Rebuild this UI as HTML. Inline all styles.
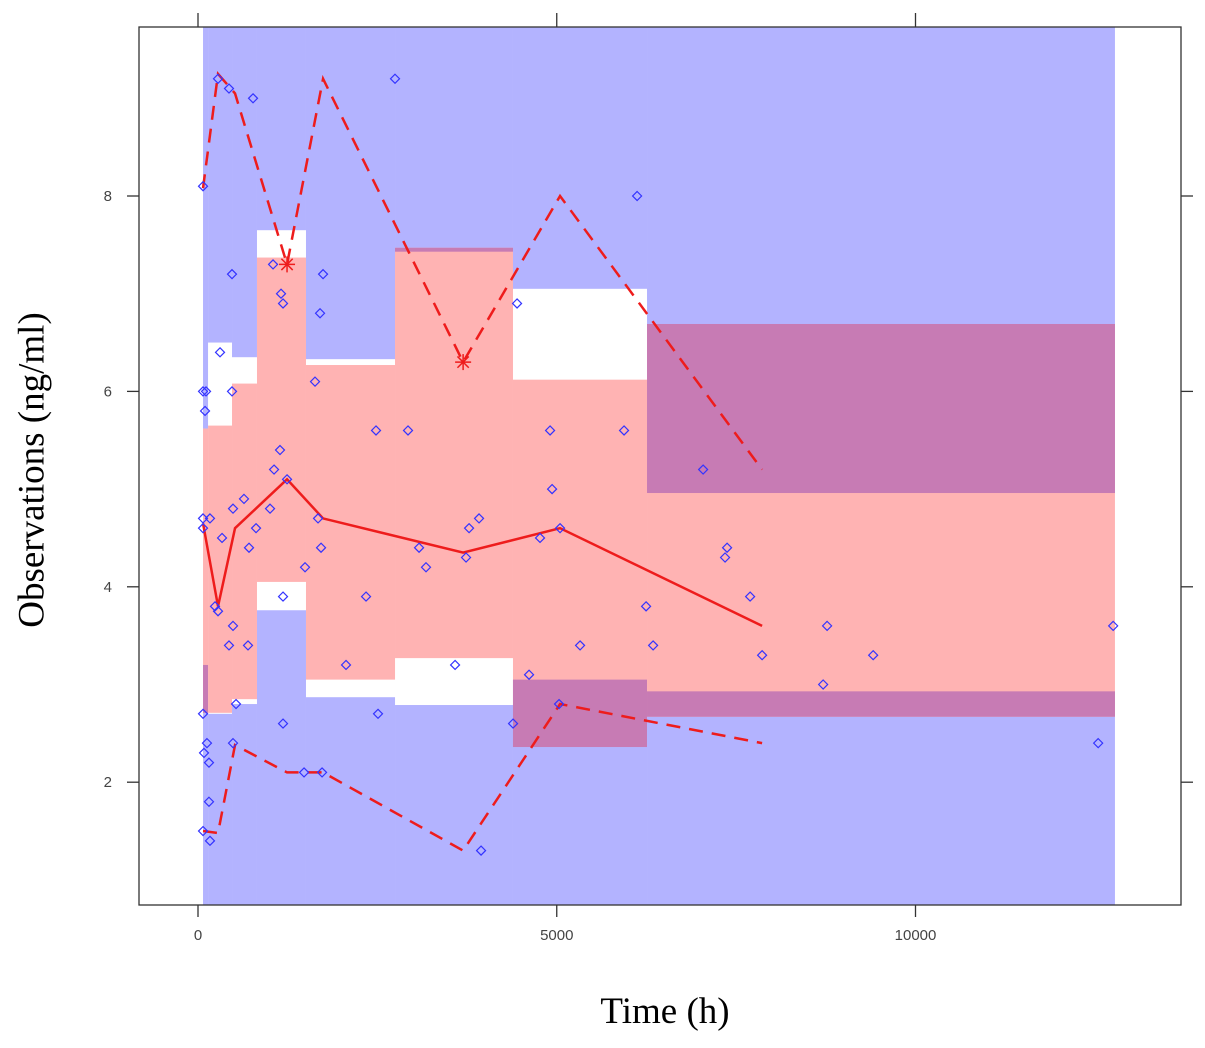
<!DOCTYPE html>
<html><head><meta charset="utf-8"><style>
html,body{margin:0;padding:0;background:#fff;overflow:hidden;width:1205px;height:1048px;}
svg text{font-family:"Liberation Sans",sans-serif;}
</style></head><body>
<svg id="chart" width="1205" height="1048" style="position:absolute;left:0;top:0" xmlns="http://www.w3.org/2000/svg">
<g id="bands"></g>
<g id="lines"></g>
<g id="pts"></g>
<g id="axes"></g>
</svg>
<script>
// bins (hours) and band limits
const binEdges=[70,140,474,822,1505,2746,4390,6258,12780];
const upperLo=[5.62,6.5,6.35,7.65,6.33,7.43,7.05,4.96];
const upperHi=[9.73,9.73,9.73,9.73,9.73,9.73,9.73,9.73];
const medLo=[2.71,2.71,2.85,4.05,3.05,3.27,2.36,2.67];
const medHi=[5.62,5.65,6.08,7.37,6.27,7.47,6.12,6.69];
const lowLo=[0.74,0.74,0.74,0.74,0.74,0.74,0.74,0.74];
const lowHi=[3.2,2.7,2.8,3.76,2.87,2.79,3.05,2.93];
// observations
const obsX=[70,279,432,767,2746,6120,474,1046,1157,1185,1743,1701,4447,307,70,112,474,98,1631,2481,2927,4907,5938,1143,1060,1241,70,167,70,641,488,1004,809,335,711,1673,1715,1492,3917,3778,3736,3178,3081,4935,5046,4767,7040,7374,7346,7695,1185,2342,237,279,488,432,697,6245,6343,5325,7862,8768,9410,12755,2063,3583,4614,8713,530,5032,70,2509,4391,1185,12546,488,125,84,153,1478,1729,153,70,167,3945];
const obsY=[8.1,9.2,9.1,9.0,9.2,8.0,7.2,7.3,7.0,6.9,7.2,6.8,6.9,6.4,6.0,6.0,6.0,5.8,6.1,5.6,5.6,5.6,5.6,5.4,5.2,5.1,4.7,4.7,4.6,4.9,4.8,4.8,4.6,4.5,4.4,4.7,4.4,4.2,4.7,4.6,4.3,4.2,4.4,5.0,4.6,4.5,5.2,4.4,4.3,3.9,3.9,3.9,3.8,3.75,3.6,3.4,3.4,3.8,3.4,3.4,3.3,3.6,3.3,3.6,3.2,3.2,3.1,3.0,2.8,2.8,2.7,2.7,2.6,2.6,2.4,2.4,2.4,2.3,2.2,2.1,2.1,1.8,1.5,1.4,1.3];
// percentile lines
const lineX=[70,279,516,1241,1743,3695,5046,7862];
const medianY=[4.65,3.8,4.6,5.1,4.7,4.35,4.6,3.6];
const upperY=[8.08,9.25,9.05,7.3,9.2,6.3,8.0,5.2];
const lowerY=[1.5,1.48,2.38,2.1,2.1,1.3,2.8,2.4];
const starIdx=[3,5];
const xTicks=[0,5000,10000];
const yTicks=[2,4,6,8];

const NS="http://www.w3.org/2000/svg";
const X=h=>198+h*0.07175;
const Y=v=>196+(8-v)*97.7;
function mk(tag,attrs,parent){const e=document.createElementNS(NS,tag);for(const k in attrs)e.setAttribute(k,attrs[k]);parent.appendChild(e);return e;}
const bands=document.getElementById('bands');
function rect(x0,x1,lo,hi,fill,name){if(hi<=lo)return;const r=mk('rect',{x:X(x0),y:Y(hi),width:X(x1)-X(x0),height:Y(lo)-Y(hi),fill:fill},bands);

}
for(let i=0;i<binEdges.length-1;i++){
  const a=binEdges[i],b=binEdges[i+1];
  rect(a,b,upperLo[i],upperHi[i],'#b3b3ff','upper-pi-band');
  rect(a,b,lowLo[i],lowHi[i],'#b3b3ff','lower-pi-band');
  rect(a,b,medLo[i],medHi[i],'#ffb3b3','median-pi-band');
  rect(a,b,Math.max(upperLo[i],medLo[i]),Math.min(upperHi[i],medHi[i]),'#c77bb4','overlap-band');
  rect(a,b,Math.max(lowLo[i],medLo[i]),Math.min(lowHi[i],medHi[i]),'#c77bb4','overlap-band');
}
const lines=document.getElementById('lines');
function pl(ys,dash,name){const p=mk('polyline',{points:lineX.map((x,i)=>X(x)+','+Y(ys[i])).join(' '),fill:'none',stroke:'#ee1c1c','stroke-width':2.5,'stroke-dasharray':dash},lines);

}
pl(medianY,'none','median-line');pl(upperY,'14,9','upper-percentile-line');pl(lowerY,'14,9','lower-percentile-line');
starIdx.forEach(i=>{const cx=X(lineX[i]),cy=Y(upperY[i]);const g=mk('g',{stroke:'#ee1c1c','stroke-width':1.5},lines);


for(let a=0;a<4;a++){const t=a*Math.PI/4;mk('line',{x1:cx-8*Math.cos(t),y1:cy-8*Math.sin(t),x2:cx+8*Math.cos(t),y2:cy+8*Math.sin(t)},g);}});
const pts=document.getElementById('pts');
obsX.forEach((x,i)=>{const cx=X(x),cy=Y(obsY[i]);const d=mk('polygon',{points:`${cx},${cy-4.5} ${cx+4.5},${cy} ${cx},${cy+4.5} ${cx-4.5},${cy}`,fill:'none',stroke:'#3333ff','stroke-width':1.2},pts);

});
const ax=document.getElementById('axes');
mk('rect',{x:139,y:27,width:1042,height:878,fill:'none',stroke:'#333','stroke-width':1.3},ax);
xTicks.forEach(t=>{const x=X(t);mk('line',{x1:x,y1:905,x2:x,y2:917,stroke:'#333','stroke-width':1.3},ax);mk('line',{x1:x,y1:13,x2:x,y2:27,stroke:'#333','stroke-width':1.3},ax);
const tx=mk('text',{x:x,y:940,'text-anchor':'middle','font-size':15,fill:'#444'},ax);tx.textContent=t;

});
yTicks.forEach(t=>{const y=Y(t);mk('line',{x1:127,y1:y,x2:139,y2:y,stroke:'#333','stroke-width':1.3},ax);mk('line',{x1:1181,y1:y,x2:1193,y2:y,stroke:'#333','stroke-width':1.3},ax);
const tx=mk('text',{x:112,y:y+5,'text-anchor':'end','font-size':15,fill:'#444'},ax);tx.textContent=t;

});
</script>
<div style="position:absolute;left:265px;width:800px;top:990px;text-align:center;font:37px 'Liberation Serif',serif;">Time (h)</div>
<div style="position:absolute;left:32px;top:470px;width:0;height:0;"><div style="position:absolute;transform:translate(-50%,-50%) rotate(-90deg);white-space:nowrap;font:37px 'Liberation Serif',serif;">Observations (ng/ml)</div></div>
</body></html>
